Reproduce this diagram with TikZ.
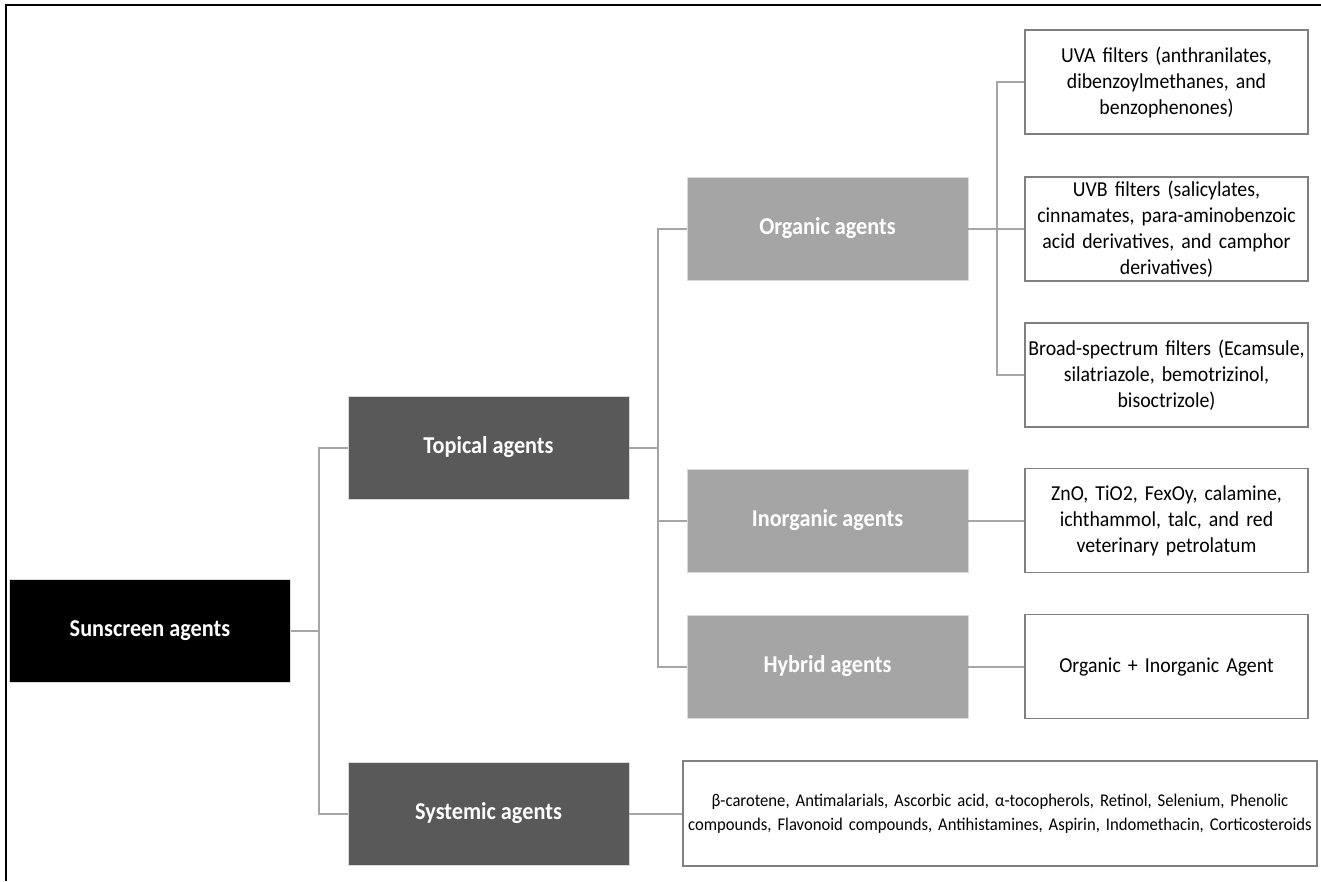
\documentclass[tikz,border=0pt]{standalone}
\usepackage{fontspec}
\setmainfont{Carlito}
\newfontfamily\infofont{Carlito}[FakeStretch=0.93]
\newfontfamily\labelfont{Carlito Bold}[FakeStretch=0.92]
\definecolor{darkg}{HTML}{595959}
\definecolor{lightg}{HTML}{A5A5A5}
\definecolor{lineg}{HTML}{A6A6A6}
\definecolor{boxline}{HTML}{808080}
\tikzset{
  catbox/.style={draw=black!15, line width=0.8pt, minimum width=281pt, minimum height=103pt, text=white, font=\labelfont\fontsize{24.2}{26}\selectfont, inner sep=0pt},
  rootbox/.style={catbox, fill=black},
  midbox/.style={catbox, fill=darkg},
  subbox/.style={catbox, fill=lightg},
  infobox/.style={draw=boxline, line width=1.2pt, fill=white, minimum width=283pt, minimum height=104pt, text width=281pt, align=center, font=\infofont\fontsize{21.3}{26}\selectfont, inner sep=0pt},
  conn/.style={draw=lineg, line width=2pt}
}
\begin{document}
\begin{tikzpicture}[x=1pt,y=-1pt]
\useasboundingbox (0,0) rectangle (1321,881);
\fill[white] (0,0) rectangle (1321,881);
\draw[black, line width=2pt] (6,881) -- (6,5) -- (1321,5);

\coordinate (b1) at (319,630.5);
\coordinate (b2) at (658,447.5);
\coordinate (b3) at (997,228.5);

\node[rootbox] (sun) at (150,630.5) {Sunscreen agents};
\node[midbox] (top) at (488.5,447.5) {Topical agents};
\node[midbox] (sys) at (488.5,813.5) {Systemic agents};
\node[subbox] (org) at (827.5,228.5) {Organic agents};
\node[subbox] (inorg) at (827.5,520.5) {Inorganic agents};
\node[subbox] (hyb) at (827.5,666.5) {Hybrid agents};

\node[infobox] (uva) at (1166.5,82) {UVA filters (anthranilates,\\ dibenzoylmethanes, and\\ benzophenones)};
\node[infobox] (uvb) at (1166.5,229) {UVB filters (salicylates,\\ cinnamates, para-aminobenzoic\\ acid derivatives, and camphor\\ derivatives)};
\node[infobox] (broad) at (1166.5,375) {Broad-spectrum filters (Ecamsule,\\ silatriazole, bemotrizinol,\\ bisoctrizole)};
\node[infobox] (zno) at (1166.5,520.5) {ZnO, TiO2, FexOy, calamine,\\ ichthammol, talc, and red\\ veterinary petrolatum};
\node[infobox] (oi) at (1166.5,666.5) {Organic + Inorganic Agent};
\node[infobox, minimum width=634pt, minimum height=105pt, text width=632pt, font=\infofont\fontsize{17.9}{24}\selectfont] (sc) at (1000,813.5) {β-carotene, Antimalarials, Ascorbic acid, α-tocopherols, Retinol, Selenium, Phenolic\\ compounds, Flavonoid compounds, Antihistamines, Aspirin, Indomethacin, Corticosteroids};

\draw[conn] (sun.east) -- (b1);
\draw[conn] (top.west) -| (b1);
\draw[conn] (sys.west) -| (b1);
\draw[conn] (top.east) -- (b2);
\draw[conn] (org.west) -| (b2);
\draw[conn] (inorg.west) -| (b2);
\draw[conn] (hyb.west) -| (b2);
\draw[conn] (org.east) -- (b3);
\draw[conn] (uva.west) -| (b3);
\draw[conn] (uvb.west) -| (b3);
\draw[conn] (broad.west) -| (b3);
\draw[conn] (inorg.east) -- (zno.west);
\draw[conn] (hyb.east) -- (oi.west);
\draw[conn] (sys.east) -- (sc.west);
\end{tikzpicture}
\end{document}
